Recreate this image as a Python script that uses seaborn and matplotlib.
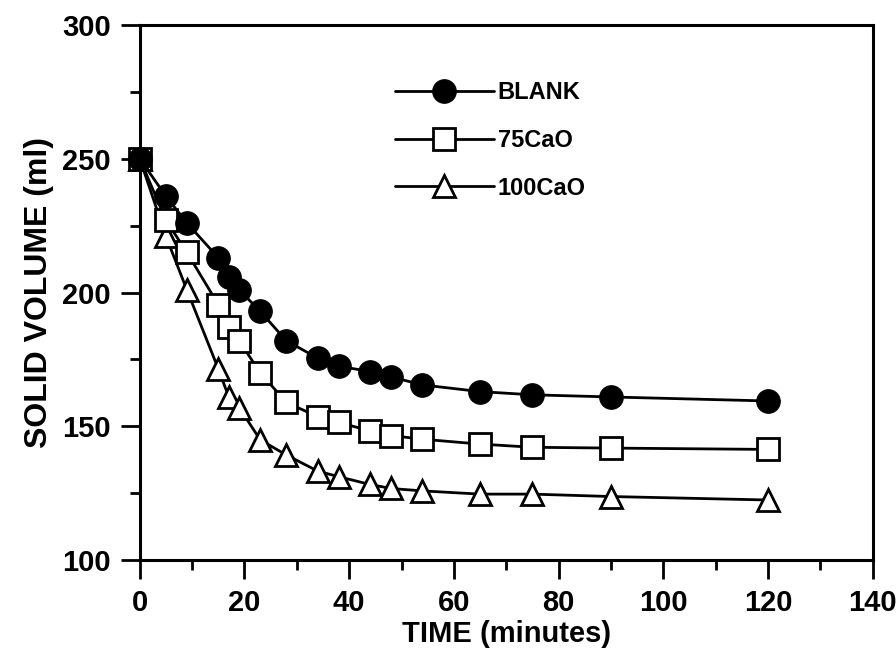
import pandas as pd
import numpy as np
import matplotlib.pyplot as plt
import seaborn as sns
from matplotlib.ticker import MultipleLocator

# values
time_min = [0, 5, 9, 15, 17, 19, 23, 28, 34, 38, 44, 48, 54, 65, 75, 90, 120]
blank = [250, 236, 226, 213, 206, 201, 193, 182, 175.5, 172.5, 170.5, 168.5, 165.5, 163, 161.8, 161, 159.5]
cao_75 = [250, 227, 215, 195.5, 187, 182, 170, 159, 153.6, 151.5, 148.3, 146.6, 145.2, 143.4, 142.2, 141.9, 141.4]
cao_100 = [250, 221, 201, 171.5, 161, 157, 145, 139.3, 133.3, 131.2, 128.3, 126.8, 125.9, 124.7, 124.7, 123.8, 122.5]
series_names = ["BLANK", "75CaO", "100CaO"]

df = pd.DataFrame({
    "time": time_min * 3,
    "volume": blank + cao_75 + cao_100,
    "series": np.repeat(series_names, len(time_min)),
})

sns.set_theme(style="ticks")
plt.rcParams['font.family'] = ['Liberation Sans', 'DejaVu Sans']
plt.rcParams['font.weight'] = 'bold'
plt.rcParams['text.color'] = 'black'
plt.rcParams['axes.labelcolor'] = 'black'

fig, ax = plt.subplots(figsize=(8.96, 6.56), dpi=100)
fig.subplots_adjust(left=0.156, right=0.974, top=0.962, bottom=0.146)

styles = {
    "BLANK": dict(marker="o", markersize=17, markerfacecolor="black", zorder=4),
    "75CaO": dict(marker="s", markersize=16, markerfacecolor="white", markeredgewidth=2, zorder=3),
    "100CaO": dict(marker="^", markersize=16, markerfacecolor="white", markeredgewidth=2, zorder=2),
}
for name in series_names:
    sub = df[df["series"] == name]
    sns.lineplot(data=sub, x="time", y="volume", ax=ax, color="black", linewidth=2,
                 markeredgecolor="black", label=name, clip_on=False, **styles[name])

ax.set_xlim(0, 140)
ax.set_ylim(100, 300)
ax.xaxis.set_major_locator(MultipleLocator(20))
ax.xaxis.set_minor_locator(MultipleLocator(10))
ax.yaxis.set_major_locator(MultipleLocator(50))
ax.yaxis.set_minor_locator(MultipleLocator(25))
ax.tick_params(which="major", direction="out", length=14, width=2, labelsize=21, pad=7,
               colors="black", labelcolor="black")
ax.tick_params(which="minor", direction="out", length=7, width=2, colors="black")
for lab in ax.get_xticklabels() + ax.get_yticklabels():
    lab.set_fontweight("bold")

for sp in ax.spines.values():
    sp.set_linewidth(2.2)
    sp.set_color("black")
    sp.set_visible(True)

ax.set_xlabel("TIME (minutes)", fontsize=21, fontweight="bold", labelpad=2, color="black")
ax.set_ylabel("SOLID VOLUME (ml)", fontsize=23, fontweight="bold", labelpad=6, color="black")

leg = ax.legend(loc="upper left", bbox_to_anchor=(0.348, 0.895), frameon=False,
                fontsize=17, handlelength=4.2, handletextpad=0.15, labelspacing=1.05,
                borderpad=0, borderaxespad=0)
for t in leg.get_texts():
    t.set_fontweight("bold")
    t.set_color("black")

fig.savefig("out.png", dpi=100)
